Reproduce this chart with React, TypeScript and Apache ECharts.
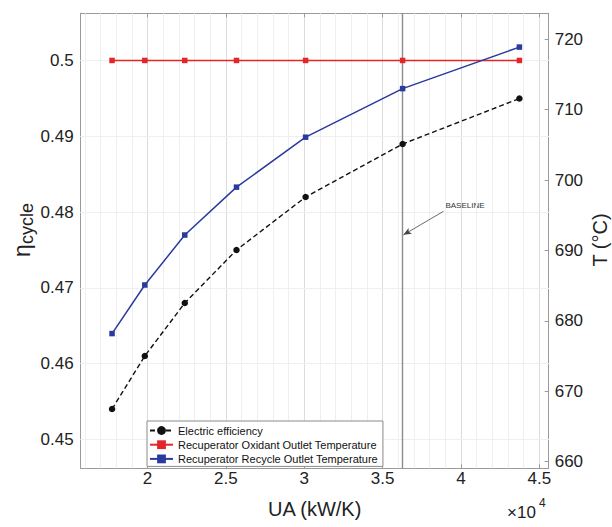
import React, { useEffect, useRef } from 'react';
import * as echarts from 'echarts';

// ---- data ----
const uaValues = [17740, 19830, 22380, 25680, 30090, 36280, 43730]; // kW/K
const efficiency = [0.454, 0.461, 0.468, 0.475, 0.482, 0.489, 0.495];
const oxidantOutletT = [717, 717, 717, 717, 717, 717, 717];
const recycleOutletT = [678.2, 685.1, 692.2, 699.0, 706.1, 713.0, 718.9];
const baselineUA = 36280;
const arrowTail = [38880, 0.4801];
const arrowTip = [36330, 0.4770];
const seriesNames = [
  'Electric efficiency',
  'Recuperator Oxidant Outlet Temperature',
  'Recuperator Recycle Outlet Temperature',
];

// axis ranges
const X_MIN = 15740, X_MAX = 45600;
const Y_MIN = 0.44617, Y_MAX = 0.50626;
const T_MIN = 659.06, T_MAX = 723.7;

const FONT = '"Liberation Sans", Arial, Helvetica, sans-serif';
const FRAME = '#9a9a9a';

function minorValues(start: number, end: number, step: number, major: number) {
  const out: number[] = [];
  for (let k = Math.ceil(start / step); k * step <= end; k++) {
    const v = +(k * step).toFixed(6);
    if (Math.abs(v / major - Math.round(v / major)) > 1e-6) out.push(v);
  }
  return out;
}

export default function App() {
  const ref = useRef<HTMLDivElement>(null);
  useEffect(() => {
    const chart = echarts.init(ref.current!, null, { renderer: 'svg' });
    const xMinor = minorValues(X_MIN, X_MAX, 1000, 5000);
    const yMinor = minorValues(Y_MIN, Y_MAX, 0.002, 0.01);
    const axisCommon = {
      z: 0,
      axisLine: { show: true, lineStyle: { color: FRAME, width: 1 } },
      axisTick: { show: true, inside: true, length: 4, lineStyle: { color: FRAME } },
    };
    const option: any = {
      animation: false,
      backgroundColor: '#fff',
      grid: { left: 80.7, top: 13.3, right: 63.3, bottom: 58.7, containLabel: false },
      legend: {
        data: seriesNames,
        orient: 'vertical',
        left: 147,
        top: 421,
        itemWidth: 23,
        itemHeight: 11,
        itemGap: 3.2,
        padding: [4, 5, 2, 2],
        borderColor: '#8a8a8a',
        borderWidth: 1,
        backgroundColor: '#fff',
        textStyle: { fontSize: 11, color: '#111', fontFamily: FONT, lineHeight: 11 },
        z: 20,
      },
      xAxis: [
        {
          type: 'value', position: 'bottom', min: X_MIN, max: X_MAX,
          ...axisCommon,
          axisLabel: {
            formatter: (v: number) => String(+(v / 1e4).toFixed(2)),
            showMinLabel: false, showMaxLabel: false,
            fontSize: 17, color: '#222', margin: 2, fontFamily: FONT,
          },
          splitLine: { show: true, lineStyle: { color: '#dcdcdc', width: 1 } },
        },
        {
          type: 'value', position: 'top', min: X_MIN, max: X_MAX,
          ...axisCommon,
          axisLabel: { show: false },
          splitLine: { show: false },
        },
      ],
      yAxis: [
        {
          type: 'value', position: 'left', min: Y_MIN, max: Y_MAX,
          ...axisCommon,
          axisLabel: {
            showMinLabel: false, showMaxLabel: false,
            fontSize: 17, color: '#222', margin: 7, fontFamily: FONT,
          },
          splitLine: { show: true, lineStyle: { color: '#dcdcdc', width: 1 } },
        },
        {
          type: 'value', position: 'right', min: T_MIN, max: T_MAX,
          ...axisCommon,
          axisLabel: {
            showMinLabel: false, showMaxLabel: false,
            fontSize: 17, color: '#222', margin: 6, fontFamily: FONT,
          },
          splitLine: { show: false },
        },
      ],
      series: [
        {
          type: 'line', data: [], xAxisIndex: 0, yAxisIndex: 0, z: 1, silent: true,
          markLine: {
            z: 1,
            silent: true, symbol: 'none', label: { show: false },
            lineStyle: { color: '#efefef', width: 1, type: 'solid' },
            emphasis: { disabled: true },
            data: [
              ...xMinor.map((v) => ({ xAxis: v })),
              ...yMinor.map((v) => ({ yAxis: v })),
            ],
          },
        },
        {
          name: seriesNames[0], type: 'line', xAxisIndex: 0, yAxisIndex: 0,
          data: uaValues.map((x, i) => [x, efficiency[i]]),
          symbol: 'circle', symbolSize: 6.5,
          lineStyle: { color: '#111', width: 1.4, type: [5, 3] },
          itemStyle: { color: '#111' },
          z: 10,
          markLine: {
            z: 9,
            silent: true, symbol: 'none', label: { show: false },
            emphasis: { disabled: true },
            data: [
              { xAxis: baselineUA, lineStyle: { color: '#8c8c8c', width: 1.4, type: 'solid' } },
              [
                { coord: arrowTail, symbol: 'none' },
                { coord: arrowTip, symbol: 'arrow', symbolSize: [5, 8] },
              ].map((d) => ({ ...d, lineStyle: { color: '#444', width: 0.8, type: 'solid' } })),
            ],
          },
        },
        {
          name: seriesNames[1], type: 'line', xAxisIndex: 0, yAxisIndex: 1,
          data: uaValues.map((x, i) => [x, oxidantOutletT[i]]),
          symbol: 'rect', symbolSize: 5.5,
          lineStyle: { color: '#e3262a', width: 1.5 },
          itemStyle: { color: '#e3262a' },
          z: 10,
        },
        {
          name: seriesNames[2], type: 'line', xAxisIndex: 0, yAxisIndex: 1,
          data: uaValues.map((x, i) => [x, recycleOutletT[i]]),
          symbol: 'rect', symbolSize: 5.5,
          lineStyle: { color: '#2b3a9e', width: 1.5 },
          itemStyle: { color: '#2b3a9e' },
          z: 10,
        },
      ],
    };
    chart.setOption(option);

    const tail = chart.convertToPixel({ seriesIndex: 1 }, arrowTail) as number[];
    chart.setOption({
      graphic: [
        {
          type: 'text', x: tail[0] + 2, y: tail[1] - 6,
          style: { text: 'BASELINE', fontSize: 8, fill: '#333', fontFamily: FONT, textVerticalAlign: 'middle' },
        },
        {
          type: 'text', x: 314.7, y: 509,
          style: { text: 'UA (kW/K)', fontSize: 20, fill: '#222', fontFamily: FONT, textAlign: 'center', textVerticalAlign: 'middle' },
        },
        {
          type: 'text', x: 507, y: 512,
          style: { text: '×10', fontSize: 17, fill: '#222', fontFamily: FONT, textVerticalAlign: 'middle' },
        },
        {
          type: 'text', x: 539, y: 503,
          style: { text: '4', fontSize: 12, fill: '#222', fontFamily: FONT, textVerticalAlign: 'middle' },
        },
        {
          type: 'text', x: 22, y: 230, rotation: Math.PI / 2,
          style: {
            text: '{eta|η}{sub|cycle}',
            fill: '#222', fontFamily: FONT,
            textAlign: 'center', textVerticalAlign: 'middle',
            rich: {
              eta: { fontSize: 23, fontFamily: FONT, fill: '#222' },
              sub: { fontSize: 18, fontFamily: FONT, fill: '#222', padding: [10, 0, 0, 0] },
            },
          },
        },
        {
          type: 'text', x: 600, y: 240, rotation: Math.PI / 2,
          style: { text: 'T (°C)', fontSize: 20, fill: '#222', fontFamily: FONT, textAlign: 'center', textVerticalAlign: 'middle' },
        },
      ],
    });
    return () => chart.dispose();
  }, []);
  return <div ref={ref} style={{ position: 'absolute', left: 0, top: 0, width: 612, height: 527 }} />;
}
